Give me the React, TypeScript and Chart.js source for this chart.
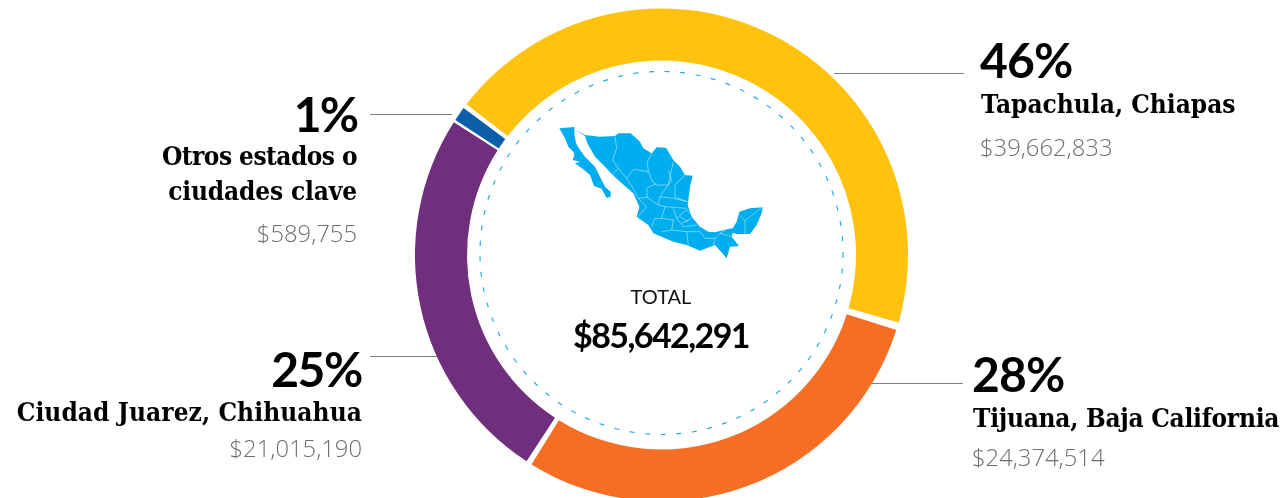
import React, { useEffect, useRef } from "react";
import { Chart, registerables } from "chart.js";

Chart.register(...registerables);

// Category names and printed figures
const categories = ["Tapachula, Chiapas", "Tijuana, Baja California", "Ciudad Juarez, Chihuahua", "Otros estados o ciudades clave"];
const percentLabels = ["46%", "28%", "25%", "1%"];
const amountLabels = ["$39,662,833", "$24,374,514", "$21,015,190", "$589,755"];
// Share of the ring each arc occupies, as measured on the picture
const arcShares = [44.55, 29.33, 25.18, 0.94];
const colors = ["#FFC20E", "#F56E23", "#702F7D", "#0B5FA8"];
const totalLabel = "TOTAL";
const totalValue = "$85,642,291";

const LATO = "Lato, sans-serif";
const SLAB = "'DejaVu Serif Condensed', 'DejaVu Serif', serif";
const OPEN = "'Open Sans', sans-serif";

// Decorative map of Mexico, traced in a 720x480 box placed at (540,110), 3 units per pixel
const MAP_SHAPES = [
  "M58 55L103 51L103 72L108 100L120 120L135 140L150 155L165 170L180 200L195 230L212 245L212 260L200 264L185 236L162 228L150 195L130 178L105 160L120 155L98 150L103 135L100 125L85 110L75 85Z",
  "M103 58L135 75L178 80L225 78L235 70L272 70L300 95L310 115L335 130L350 112L378 113L400 150L420 170L435 195L458 197L450 230L445 270L443 285L455 320L480 350L505 365L525 367L560 358L578 355L590 335L598 305L630 295L668 292L665 310L650 345L630 372L590 372L578 368L575 380L597 408L570 410L560 445L525 405L480 422L440 405L400 395L340 370L325 345L290 320L298 290L280 250L245 220L215 192L195 170L165 140L142 100L135 78Z",
];
const MAP_BORDERS = "M225 80L230 115L218 150L235 175L215 195M235 175L260 205L280 178L325 185L322 155L345 112M260 205L285 245L295 265M325 185L338 215L350 225L385 225L400 155M385 225L360 260L400 265L443 275M320 235L350 220M320 235L322 262L295 265L320 290L295 320M322 262L355 285L360 260M355 285L375 290L440 295M375 290L365 325L345 325L335 350M365 325L400 330L395 360L365 365M400 295L410 325L440 300L460 320L480 350M410 325L430 350L470 345M395 360L440 365L445 405M440 365L480 365L495 385L525 385L520 405M525 385L540 370L575 380M540 370L560 358M598 315L615 332L665 292M615 332L615 372M435 195L405 225L405 260L440 275M385 180L395 212L385 225M420 320L445 335M425 340L455 325";

const leaders = [
  [834, 73.5, 964],
  [870, 383.5, 963],
  [370, 356.5, 437],
  [370, 114.5, 452],
];

const decor = {
  id: "decor",
  beforeDatasetsDraw(chart: any) {
    const arc = chart.getDatasetMeta(0).data[0];
    const { ctx } = chart;
    ctx.save();
    ctx.strokeStyle = "#29ABE2";
    ctx.lineWidth = 1.2;
    ctx.setLineDash([5, 10.6]);
    ctx.beginPath();
    ctx.arc(arc.x, arc.y - 2, 181.5, 0, Math.PI * 2);
    ctx.stroke();
    ctx.setLineDash([]);

    ctx.strokeStyle = "#808080";
    ctx.lineWidth = 1;
    leaders.forEach(([a, y, b]) => {
      ctx.beginPath();
      ctx.moveTo(a, y);
      ctx.lineTo(b, y);
      ctx.stroke();
    });

    ctx.translate(540, 110);
    ctx.scale(1 / 3, 1 / 3);
    ctx.fillStyle = "#00AEEF";
    MAP_SHAPES.forEach((d) => ctx.fill(new Path2D(d)));
    ctx.strokeStyle = "rgba(255,255,255,0.55)";
    ctx.lineWidth = 2.4;
    ctx.stroke(new Path2D(MAP_BORDERS));
    ctx.restore();
  },
};

const baselineRatio: Record<string, number> = { [LATO]: 0.887, [SLAB]: 0.846, [OPEN]: 0.888 };

function T(props: {
  text: string; x: number; baseline: number; size: number; font: string; weight: number;
  color: string; align: "left" | "right" | "center"; spacing?: number;
}) {
  const { text, x, baseline, size, font, weight, color, align, spacing } = props;
  const style: React.CSSProperties = {
    position: "absolute",
    top: baseline - baselineRatio[font] * size,
    fontFamily: font,
    fontSize: size,
    fontWeight: weight,
    color,
    lineHeight: 1,
    whiteSpace: "nowrap",
    letterSpacing: spacing ?? 0,
  };
  if (align === "left") style.left = x;
  if (align === "right") style.right = 1280 - x;
  if (align === "center") { style.left = x - 200; style.width = 400; style.textAlign = "center"; }
  return <div style={style}>{text}</div>;
}

export default function App() {
  const ref = useRef<HTMLCanvasElement>(null);
  useEffect(() => {
    const chart = new Chart(ref.current!, {
      type: "doughnut",
      data: {
        labels: categories,
        datasets: [{
          data: arcShares,
          backgroundColor: colors,
          borderWidth: 0,
          spacing: 6,
          cutout: 191.5,
          rotation: -53.4,
        }],
      },
      options: {
        animation: false,
        responsive: false,
        layout: { padding: { left: 43, top: 8.5, bottom: 0.5 } },
        plugins: { legend: { display: false }, tooltip: { enabled: false } },
      },
      plugins: [decor],
    } as any);
    return () => chart.destroy();
  }, []);

  const pct = { size: 48, font: LATO, weight: 700, color: "#000", spacing: -0.8 };
  const name = { size: 26, font: SLAB, weight: 700, color: "#000", spacing: 0 };
  const amt = { size: 23.8, font: OPEN, weight: 300, color: "#6e6e6e" };

  return (
    <div style={{ position: "fixed", left: 0, top: 0, width: 1280, height: 498, overflow: "hidden", background: "#fff" }}>
      <canvas ref={ref} width={1280} height={502} style={{ display: "block" }} />

      <T text={percentLabels[0]} x={980} baseline={79} align="left" {...pct} />
      <T text={categories[0]} x={981} baseline={113} align="left" {...name} />
      <T text={amountLabels[0]} x={980} baseline={157} align="left" {...amt} />

      <T text={percentLabels[1]} x={972} baseline={393} align="left" {...pct} />
      <T text={categories[1]} x={973} baseline={427} align="left" {...name} spacing={-0.27} />
      <T text={amountLabels[1]} x={972} baseline={467} align="left" {...amt} />

      <T text={percentLabels[2]} x={362} baseline={388} align="right" {...pct} spacing={-1.4} />
      <T text={categories[2]} x={362} baseline={421} align="right" {...name} spacing={0.08} />
      <T text={amountLabels[2]} x={362} baseline={458} align="right" {...amt} />

      <T text={percentLabels[3]} x={357} baseline={133} align="right" {...pct} spacing={-2} />
      <T text="Otros estados o" x={357} baseline={165} align="right" {...name} spacing={-0.55} />
      <T text="ciudades clave" x={357} baseline={200} align="right" {...name} spacing={-0.15} />
      <T text={amountLabels[3]} x={357} baseline={243} align="right" {...amt} />

      <T text={totalLabel} x={661} baseline={304} size={20} font={LATO} weight={400} color="#111" align="center" />
      <T text={totalValue} x={661} baseline={348} size={34} font={LATO} weight={700} color="#000" align="center" spacing={-1.6} />
    </div>
  );
}
